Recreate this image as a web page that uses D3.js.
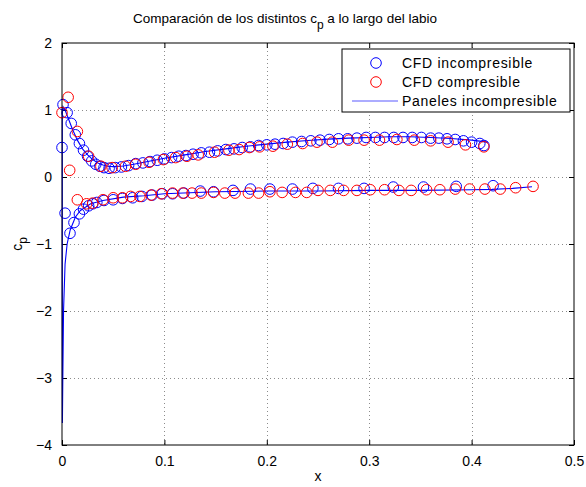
<!DOCTYPE html>
<html>
<head>
<meta charset="utf-8">
<script src="https://cdn.jsdelivr.net/npm/d3@7"></script>
<style>
  html, body { margin: 0; padding: 0; background: #fff; }
  svg { display: block; font-family: "Liberation Sans", Arial, sans-serif; }
</style>
</head>
<body>
<svg id="chart" width="586" height="487"></svg>
<script>
// Pressure coefficient along the lip: CFD (incompressible / compressible) and panel method.
const xTicks = [0, 0.1, 0.2, 0.3, 0.4, 0.5];
const yTicks = [-4, -3, -2, -1, 0, 1, 2];
const xTickLabels = ["0", "0.1", "0.2", "0.3", "0.4", "0.5"];
const yTickLabels = ["\u22124", "\u22123", "\u22122", "\u22121", "0", "1", "2"];

const legendLabels = ["CFD incompresible", "CFD compresible", "Paneles incompresible"];

// CFD incompressible, upper and lower surface [x, cp]
const cfdIncUpper = [
  [0.000,0.44],[0.001,1.08],[0.005,0.96],[0.009,0.80],[0.013,0.63],[0.017,0.50],[0.021,0.40],
  [0.025,0.31],[0.029,0.24],[0.033,0.19],[0.037,0.16],[0.041,0.14],[0.046,0.13],[0.052,0.14],
  [0.058,0.15],[0.065,0.17],[0.072,0.20],[0.079,0.21],[0.086,0.23],[0.093,0.25],[0.100,0.27],
  [0.107,0.29],[0.114,0.31],[0.121,0.32],[0.128,0.34],[0.136,0.36],[0.144,0.37],[0.152,0.39],
  [0.160,0.41],[0.168,0.42],[0.176,0.44],[0.184,0.45],[0.192,0.47],[0.200,0.48],[0.208,0.49],
  [0.216,0.50],[0.225,0.52],[0.234,0.53],[0.243,0.54],[0.252,0.55],[0.261,0.56],[0.270,0.57],
  [0.279,0.57],[0.288,0.58],[0.297,0.59],[0.306,0.59],[0.315,0.59],[0.324,0.59],[0.333,0.59],
  [0.342,0.59],[0.351,0.59],[0.360,0.58],[0.368,0.58],[0.376,0.57],[0.384,0.56],[0.392,0.54],
  [0.400,0.52],[0.408,0.50],[0.412,0.47]
];
const cfdIncLower = [
  [0.003,-0.54],[0.0078,-0.84],[0.0117,-0.68],[0.017,-0.55],[0.021,-0.48],[0.026,-0.43],
  [0.030,-0.40],[0.034,-0.38],[0.041,-0.35],[0.050,-0.34],[0.059,-0.32],[0.069,-0.31],
  [0.078,-0.29],[0.088,-0.27],[0.098,-0.25],[0.108,-0.25],[0.119,-0.24],[0.135,-0.21],
  [0.148,-0.22],[0.167,-0.20],[0.184,-0.18],[0.203,-0.18],[0.225,-0.18],[0.245,-0.17],
  [0.270,-0.17],[0.295,-0.17],[0.3235,-0.15],[0.353,-0.15],[0.385,-0.14],[0.421,-0.13]
];

// CFD compressible, upper and lower surface [x, cp]
const cfdCompUpper = [
  [0.000,0.96],[0.006,1.19],[0.0075,0.10],[0.015,0.68],[0.026,0.31],[0.038,0.16],[0.049,0.14],
  [0.062,0.16],[0.072,0.19],[0.085,0.22],[0.099,0.26],[0.111,0.29],[0.122,0.31],[0.133,0.33],
  [0.149,0.37],[0.163,0.40],[0.173,0.41],[0.183,0.44],[0.193,0.45],[0.206,0.46],[0.220,0.49],
  [0.235,0.50],[0.249,0.52],[0.264,0.52],[0.280,0.55],[0.295,0.55],[0.310,0.55],[0.327,0.56],
  [0.344,0.55],[0.360,0.54],[0.377,0.52],[0.394,0.48],[0.412,0.45]
];
const cfdCompLower = [
  [0.015,-0.34],[0.024,-0.40],[0.030,-0.39],[0.040,-0.34],[0.050,-0.31],[0.059,-0.31],
  [0.067,-0.29],[0.076,-0.29],[0.087,-0.27],[0.097,-0.25],[0.108,-0.24],[0.118,-0.24],
  [0.127,-0.24],[0.136,-0.24],[0.148,-0.23],[0.159,-0.24],[0.169,-0.24],[0.182,-0.24],
  [0.192,-0.24],[0.203,-0.22],[0.215,-0.23],[0.228,-0.23],[0.239,-0.23],[0.250,-0.20],
  [0.262,-0.20],[0.275,-0.20],[0.288,-0.20],[0.301,-0.19],[0.315,-0.19],[0.329,-0.20],
  [0.341,-0.20],[0.356,-0.19],[0.369,-0.19],[0.384,-0.18],[0.398,-0.18],[0.413,-0.18],
  [0.428,-0.18],[0.443,-0.16],[0.460,-0.14]
];

// Panel method, traced from upper trailing edge around the leading edge to the lower one
const panelCurve = [
  [0.416,0.52],[0.400,0.55],[0.380,0.575],[0.360,0.59],[0.340,0.60],[0.320,0.60],[0.300,0.59],
  [0.280,0.58],[0.260,0.565],[0.240,0.545],[0.220,0.52],[0.200,0.49],[0.180,0.46],[0.160,0.42],
  [0.140,0.38],[0.120,0.33],[0.100,0.28],[0.080,0.22],[0.070,0.19],[0.060,0.165],[0.050,0.155],
  [0.045,0.16],[0.040,0.18],[0.035,0.21],[0.030,0.26],[0.025,0.33],[0.020,0.42],[0.015,0.55],
  [0.010,0.72],[0.006,0.88],[0.003,1.00],[0.001,1.05],[0.0003,0.95],[0.0003,-1.0],
  [0.0004,-3.67],[0.0008,-3.0],[0.0015,-2.0],[0.003,-1.3],[0.005,-1.0],[0.008,-0.79],
  [0.013,-0.60],[0.018,-0.50],[0.028,-0.40],[0.040,-0.35],[0.060,-0.30],[0.080,-0.28],
  [0.100,-0.25],[0.150,-0.22],[0.200,-0.21],[0.250,-0.21],[0.300,-0.20],[0.350,-0.20],
  [0.400,-0.19],[0.420,-0.185],[0.440,-0.17],[0.459,-0.145]
];

const svg = d3.select("#chart");
const margin = { left: 62, right: 12, top: 43, bottom: 42 };
const W = 586, H = 487;

const x = d3.scaleLinear().domain([0, 0.5]).range([margin.left, W - margin.right]);
const y = d3.scaleLinear().domain([-4, 2]).range([H - margin.bottom, margin.top]);

const blue = "#0000ff", red = "#ff0000";

// dotted grid
const grid = svg.append("g").attr("stroke", "#8c8c8c").attr("stroke-width", 1)
  .attr("stroke-dasharray", "1,3");
grid.selectAll("line.gx").data(xTicks.slice(1, -1)).join("line")
  .attr("x1", d => Math.round(x(d)) + 0.5).attr("x2", d => Math.round(x(d)) + 0.5)
  .attr("y1", y(2)).attr("y2", y(-4));
grid.selectAll("line.gy").data(yTicks.slice(1, -1)).join("line")
  .attr("y1", d => Math.round(y(d)) + 0.5).attr("y2", d => Math.round(y(d)) + 0.5)
  .attr("x1", x(0)).attr("x2", x(0.5));

// axes with inward ticks on all four sides
const tickLen = 5;
const axB = d3.axisBottom(x).tickValues(xTicks).tickFormat((d, i) => xTickLabels[i])
  .tickSizeInner(-tickLen).tickSizeOuter(0).tickPadding(11);
const axT = d3.axisTop(x).tickValues(xTicks).tickFormat("").tickSizeInner(-tickLen).tickSizeOuter(0);
const axL = d3.axisLeft(y).tickValues(yTicks).tickFormat((d, i) => yTickLabels[i])
  .tickSizeInner(-tickLen).tickSizeOuter(0).tickPadding(10);
const axR = d3.axisRight(y).tickValues(yTicks).tickFormat("").tickSizeInner(-tickLen).tickSizeOuter(0);

function styleAxis(g) {
  g.select(".domain").remove();
  g.selectAll("line").attr("stroke", "#000");
  g.selectAll("text").attr("font-size", 14).attr("fill", "#000")
    .attr("font-family", "Liberation Sans, Arial, sans-serif");
}
svg.append("g").attr("transform", `translate(0,${y(-4)})`).call(axB).call(styleAxis);
svg.append("g").attr("transform", `translate(0,${y(2)})`).call(axT).call(styleAxis);
svg.append("g").attr("transform", `translate(${x(0)},0)`).call(axL).call(styleAxis);
svg.append("g").attr("transform", `translate(${x(0.5)},0)`).call(axR).call(styleAxis);

// panel method line
const line = d3.line().x(d => x(d[0])).y(d => y(d[1]));
svg.append("path").datum(panelCurve).attr("d", line)
  .attr("fill", "none").attr("stroke", blue).attr("stroke-width", 1.1);

// CFD markers
function markers(data, color) {
  svg.append("g").selectAll("circle").data(data).join("circle")
    .attr("cx", d => x(d[0])).attr("cy", d => y(d[1])).attr("r", 5.3)
    .attr("fill", "none").attr("stroke", color).attr("stroke-width", 1);
}
markers(cfdIncUpper, blue);
markers(cfdIncLower, blue);
markers(cfdCompUpper, red);
markers(cfdCompLower, red);

// plot box
svg.append("rect").attr("x", x(0)).attr("y", y(2))
  .attr("width", x(0.5) - x(0)).attr("height", y(-4) - y(2))
  .attr("fill", "none").attr("stroke", "#000").attr("stroke-width", 1);

// title with subscript
const title = svg.append("text").attr("x", 285).attr("y", 23).attr("text-anchor", "middle")
  .attr("font-size", 13.5).attr("fill", "#000");
title.append("tspan").text("Comparación de los distintos c");
title.append("tspan").attr("dy", 6).attr("font-size", 12).text("p");
title.append("tspan").attr("dy", -6).text(" a lo largo del labio");

// axis labels
svg.append("text").attr("x", x(0.25)).attr("y", 481).attr("text-anchor", "middle")
  .attr("font-size", 14).text("x");
const yl = svg.append("text").attr("transform", `translate(22,${y(-1)}) rotate(-90)`)
  .attr("text-anchor", "middle").attr("font-size", 14);
yl.append("tspan").text("c");
yl.append("tspan").attr("dy", 5).attr("font-size", 12).text("p");

// legend
const lg = svg.append("g").attr("transform", "translate(342,49)");
lg.append("rect").attr("width", 228).attr("height", 63).attr("fill", "#fff")
  .attr("stroke", "#000").attr("stroke-width", 1);
const rows = [14, 33, 52];
lg.append("circle").attr("cx", 34).attr("cy", rows[0]).attr("r", 5.3)
  .attr("fill", "none").attr("stroke", blue);
lg.append("circle").attr("cx", 34).attr("cy", rows[1]).attr("r", 5.3)
  .attr("fill", "none").attr("stroke", red);
lg.append("line").attr("x1", 10).attr("x2", 56).attr("y1", rows[2]).attr("y2", rows[2])
  .attr("stroke", "#5a5aff").attr("stroke-width", 1.2);
lg.selectAll("text.lab").data(legendLabels).join("text")
  .attr("x", 60).attr("y", (d, i) => rows[i] + 5).attr("font-size", 14)
  .attr("letter-spacing", 0.7).text(d => d);
</script>
</body>
</html>
